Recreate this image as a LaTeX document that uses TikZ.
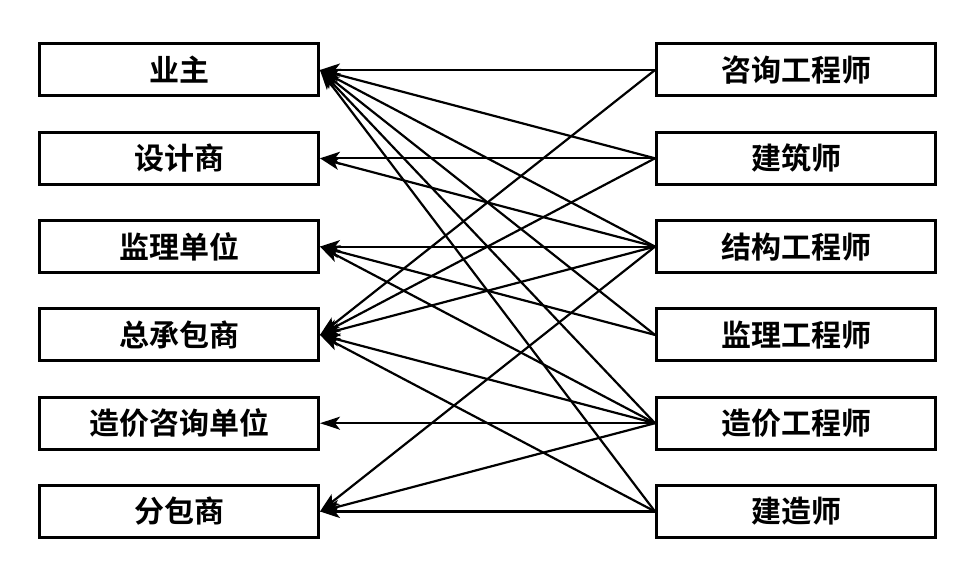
\documentclass[tikz,border=0pt]{standalone}
\usepackage{fontspec}
\newfontfamily\cjk{Noto Sans CJK SC}[BoldFont={* Bold}]
\usetikzlibrary{arrows.meta}

\begin{document}
\begin{tikzpicture}[
  x=1pt, y=-1pt,
  >={Stealth[length=20pt,width=13pt,inset=5pt]},
  box/.style={draw, line width=3pt, minimum width=279pt, minimum height=52pt,
    inner sep=0pt, font=\cjk\bfseries\fontsize{30pt}{32pt}\selectfont},
  link/.style={->, line width=2.2pt}
]

\useasboundingbox (0,0) rectangle (974,564);

% organisations (left) and roles (right)
\foreach \name/\lbl [count=\i] in
  {l1/业主, l2/设计商, l3/监理单位, l4/总承包商, l5/造价咨询单位, l6/分包商}{
  \node[box] (\name) at (179,{70+88.3*(\i-1)}) {\lbl};
}
\foreach \name/\lbl [count=\i] in
  {r1/咨询工程师, r2/建筑师, r3/结构工程师, r4/监理工程师, r5/造价工程师, r6/建造师}{
  \node[box] (\name) at (796,{70+88.3*(\i-1)}) {\lbl};
}

% who serves whom
\foreach \from/\to in {
  r1/l1, r1/l4,
  r2/l1, r2/l2, r2/l4,
  r3/l1, r3/l2, r3/l3, r3/l4, r3/l6,
  r4/l1, r4/l3,
  r5/l1, r5/l3, r5/l4, r5/l5, r5/l6,
  r6/l1, r6/l4, r6/l6}{
  \draw[link] (\from.west) -- (\to.east);
}

\end{tikzpicture}
\end{document}
